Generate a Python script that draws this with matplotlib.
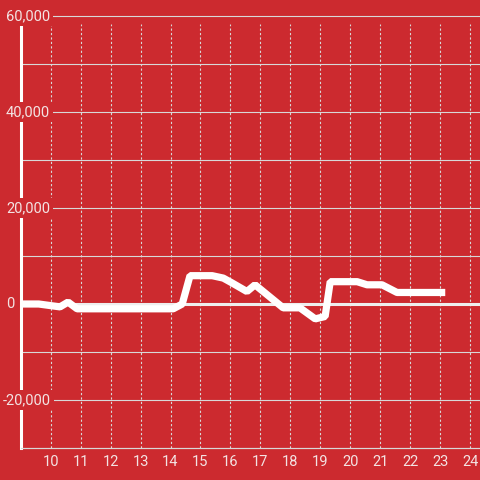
import numpy as np
import matplotlib.pyplot as plt
from matplotlib.transforms import blended_transform_factory

# hours of day and value readings
hours = [9.0, 9.6, 10.31, 10.58, 10.88, 14.09, 14.39, 14.65, 15.39, 15.76,
         16.05, 16.55, 16.82, 17.76, 18.32, 18.83, 19.16, 19.33, 20.23,
         20.56, 21.06, 21.56, 23.17]
values = [0, 0, -600, 400, -1000, -1000, 0, 5900, 5900, 5400,
          4400, 2600, 4000, -800, -800, -3100, -2600, 4650, 4650,
          4000, 4000, 2400, 2400]

x_ticks = list(range(10, 25))
y_grid = list(range(-30000, 60001, 10000))
y_labels = [60000, 40000, 20000, 0, -20000]

bg = '#cc2a2f'
txt = '#f3e3e3'
grid_c = '#d8d8d8'

plt.rcParams['font.family'] = ['Roboto', 'DejaVu Sans']

fig = plt.figure(figsize=(4.8, 4.8), dpi=100, facecolor=bg)
left_px = 20.75
width_px = 480 - left_px
ax = fig.add_axes([left_px/480, 32/480, width_px/480, 432/480])
ax.set_facecolor(bg)
ax.set_xlim(9, 24.33)
ax.set_ylim(-30000, 60000)

for s in ['top', 'right']:
    ax.spines[s].set_visible(False)
ax.spines['left'].set_color('white')
ax.spines['left'].set_linewidth(2.2)
ax.spines['left'].set_zorder(1.5)
ax.spines['bottom'].set_color(grid_c)
ax.spines['bottom'].set_linewidth(0.8)

# grid
for y in y_grid:
    if y == 0:
        ax.axhline(y, color='#eeeeee', lw=2.2, zorder=2)
    else:
        ax.axhline(y, color=grid_c, lw=0.8, zorder=1, clip_on=False)
for x in x_ticks:
    ax.axvline(x, ymax=0.981, color=grid_c, lw=0.8, ls=(0, (2, 2)), zorder=1)

ax.plot(hours, values, color='white', lw=5.2, solid_capstyle='butt',
        solid_joinstyle='bevel', zorder=3)

ax.set_xticks(x_ticks)
ax.set_xticklabels([str(t) for t in x_ticks], color=txt, fontsize=10.5)
ax.tick_params(axis='x', length=0, pad=5)
ax.set_yticks([])

# y labels sit over the left spine, left-aligned
tr = blended_transform_factory(ax.transAxes, ax.transData)
for y in y_labels:
    lx = 3 if y < 0 else 6
    ax.text((lx - left_px) / width_px, y, f'{y:,}', transform=tr,
            ha='left', va='center', color=txt, fontsize=10.5, zorder=2.5,
            clip_on=False, bbox=dict(facecolor=bg, edgecolor='none', pad=2))

fig.savefig('out.png', dpi=100, facecolor=bg)
